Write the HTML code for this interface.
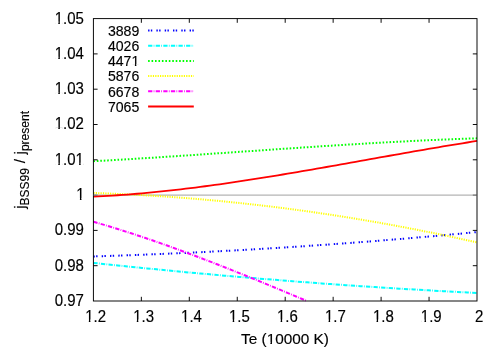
<!DOCTYPE html>
<html><head><meta charset="utf-8"><title>plot</title>
<style>
html,body{margin:0;padding:0;background:#fff;}
body{width:500px;height:350px;overflow:hidden;position:relative;}
svg text{font-family:"Liberation Sans",sans-serif;font-size:15px;fill:#000;stroke:#000;stroke-width:0.15px;}
</style></head><body>
<svg width="500" height="350" viewBox="0 0 500 350" style="position:absolute;left:0;top:0;will-change:transform;opacity:0.999">
<rect width="500" height="350" fill="#fff"/>
<line x1="93.4" y1="195.10" x2="477.0" y2="195.10" stroke="#b4b4b4" stroke-width="1.15"/>
<path d="M93.4,256.45 L98.3,256.30 L103.1,256.14 L108.0,255.98 L112.8,255.82 L117.7,255.65 L122.5,255.48 L127.4,255.30 L132.2,255.13 L137.1,254.94 L142.0,254.76 L146.8,254.56 L151.7,254.37 L156.5,254.17 L161.4,253.97 L166.2,253.76 L171.1,253.55 L175.9,253.33 L180.8,253.11 L185.7,252.89 L190.5,252.66 L195.4,252.43 L200.2,252.19 L205.1,251.95 L209.9,251.71 L214.8,251.46 L219.6,251.21 L224.5,250.95 L229.4,250.69 L234.2,250.43 L239.1,250.16 L243.9,249.89 L248.8,249.61 L253.6,249.33 L258.5,249.05 L263.3,248.76 L268.2,248.47 L273.1,248.17 L277.9,247.87 L282.8,247.57 L287.6,247.26 L292.5,246.95 L297.3,246.63 L302.2,246.31 L307.1,245.98 L311.9,245.66 L316.8,245.32 L321.6,244.99 L326.5,244.65 L331.3,244.30 L336.2,243.95 L341.0,243.60 L345.9,243.24 L350.8,242.88 L355.6,242.52 L360.5,242.15 L365.3,241.77 L370.2,241.40 L375.0,241.02 L379.9,240.63 L384.7,240.24 L389.6,239.85 L394.5,239.45 L399.3,239.05 L404.2,238.64 L409.0,238.23 L413.9,237.82 L418.7,237.40 L423.6,236.98 L428.4,236.56 L433.3,236.13 L438.2,235.69 L443.0,235.26 L447.9,234.81 L452.7,234.37 L457.6,233.92 L462.4,233.46 L467.3,233.01 L472.1,232.54 L477.0,232.08" fill="none" stroke="#0000ff" stroke-width="2.0" stroke-dasharray="1.4 1.35 1.4 4.15"/>
<path d="M93.4,262.92 L98.3,263.43 L103.1,263.95 L108.0,264.46 L112.8,264.96 L117.7,265.47 L122.5,265.96 L127.4,266.46 L132.2,266.95 L137.1,267.44 L142.0,267.93 L146.8,268.41 L151.7,268.89 L156.5,269.36 L161.4,269.83 L166.2,270.30 L171.1,270.76 L175.9,271.22 L180.8,271.68 L185.7,272.13 L190.5,272.58 L195.4,273.03 L200.2,273.47 L205.1,273.91 L209.9,274.35 L214.8,274.78 L219.6,275.21 L224.5,275.64 L229.4,276.06 L234.2,276.48 L239.1,276.89 L243.9,277.30 L248.8,277.71 L253.6,278.12 L258.5,278.52 L263.3,278.92 L268.2,279.31 L273.1,279.70 L277.9,280.09 L282.8,280.47 L287.6,280.85 L292.5,281.23 L297.3,281.60 L302.2,281.97 L307.1,282.34 L311.9,282.70 L316.8,283.06 L321.6,283.41 L326.5,283.77 L331.3,284.11 L336.2,284.46 L341.0,284.80 L345.9,285.14 L350.8,285.47 L355.6,285.80 L360.5,286.13 L365.3,286.46 L370.2,286.78 L375.0,287.09 L379.9,287.41 L384.7,287.72 L389.6,288.02 L394.5,288.33 L399.3,288.63 L404.2,288.92 L409.0,289.22 L413.9,289.50 L418.7,289.79 L423.6,290.07 L428.4,290.35 L433.3,290.63 L438.2,290.90 L443.0,291.17 L447.9,291.43 L452.7,291.69 L457.6,291.95 L462.4,292.20 L467.3,292.45 L472.1,292.70 L477.0,292.95" fill="none" stroke="#00ffff" stroke-width="2.0" stroke-dasharray="4.25 1.3 0.75 1.3"/>
<path d="M93.4,161.21 L98.3,160.95 L103.1,160.68 L108.0,160.40 L112.8,160.12 L117.7,159.84 L122.5,159.55 L127.4,159.26 L132.2,158.97 L137.1,158.67 L142.0,158.37 L146.8,158.06 L151.7,157.75 L156.5,157.44 L161.4,157.13 L166.2,156.81 L171.1,156.50 L175.9,156.18 L180.8,155.85 L185.7,155.53 L190.5,155.20 L195.4,154.87 L200.2,154.54 L205.1,154.21 L209.9,153.88 L214.8,153.55 L219.6,153.21 L224.5,152.88 L229.4,152.54 L234.2,152.21 L239.1,151.87 L243.9,151.54 L248.8,151.20 L253.6,150.87 L258.5,150.53 L263.3,150.20 L268.2,149.86 L273.1,149.53 L277.9,149.20 L282.8,148.87 L287.6,148.54 L292.5,148.21 L297.3,147.88 L302.2,147.56 L307.1,147.23 L311.9,146.91 L316.8,146.59 L321.6,146.28 L326.5,145.96 L331.3,145.65 L336.2,145.34 L341.0,145.04 L345.9,144.74 L350.8,144.44 L355.6,144.14 L360.5,143.85 L365.3,143.56 L370.2,143.28 L375.0,143.00 L379.9,142.72 L384.7,142.45 L389.6,142.18 L394.5,141.92 L399.3,141.67 L404.2,141.41 L409.0,141.17 L413.9,140.93 L418.7,140.69 L423.6,140.46 L428.4,140.23 L433.3,140.01 L438.2,139.80 L443.0,139.60 L447.9,139.40 L452.7,139.20 L457.6,139.02 L462.4,138.84 L467.3,138.66 L472.1,138.50 L477.0,138.34" fill="none" stroke="#00ff00" stroke-width="2.0" stroke-dasharray="1.6 1.85"/>
<path d="M93.4,193.00 L98.3,193.16 L103.1,193.33 L108.0,193.51 L112.8,193.71 L117.7,193.91 L122.5,194.13 L127.4,194.36 L132.2,194.60 L137.1,194.86 L142.0,195.12 L146.8,195.40 L151.7,195.69 L156.5,195.99 L161.4,196.31 L166.2,196.63 L171.1,196.97 L175.9,197.32 L180.8,197.68 L185.7,198.06 L190.5,198.44 L195.4,198.84 L200.2,199.25 L205.1,199.67 L209.9,200.11 L214.8,200.55 L219.6,201.01 L224.5,201.48 L229.4,201.96 L234.2,202.46 L239.1,202.96 L243.9,203.48 L248.8,204.01 L253.6,204.55 L258.5,205.11 L263.3,205.67 L268.2,206.25 L273.1,206.84 L277.9,207.44 L282.8,208.06 L287.6,208.68 L292.5,209.32 L297.3,209.97 L302.2,210.63 L307.1,211.31 L311.9,211.99 L316.8,212.69 L321.6,213.40 L326.5,214.12 L331.3,214.85 L336.2,215.60 L341.0,216.36 L345.9,217.13 L350.8,217.91 L355.6,218.70 L360.5,219.51 L365.3,220.33 L370.2,221.16 L375.0,222.00 L379.9,222.85 L384.7,223.72 L389.6,224.60 L394.5,225.48 L399.3,226.39 L404.2,227.30 L409.0,228.23 L413.9,229.16 L418.7,230.11 L423.6,231.07 L428.4,232.05 L433.3,233.03 L438.2,234.03 L443.0,235.04 L447.9,236.06 L452.7,237.10 L457.6,238.14 L462.4,239.20 L467.3,240.27 L472.1,241.35 L477.0,242.44" fill="none" stroke="#ffff00" stroke-width="2.0" stroke-dasharray="1.2 1.18"/>
<path d="M93.4,221.76 L96.1,222.53 L98.8,223.31 L101.5,224.10 L104.2,224.90 L106.9,225.71 L109.6,226.53 L112.3,227.35 L115.0,228.18 L117.7,229.02 L120.4,229.86 L123.1,230.72 L125.8,231.58 L128.5,232.44 L131.2,233.32 L133.9,234.20 L136.6,235.09 L139.3,235.99 L142.0,236.89 L144.8,237.80 L147.5,238.72 L150.2,239.64 L152.9,240.57 L155.6,241.51 L158.3,242.45 L161.0,243.40 L163.7,244.35 L166.4,245.31 L169.1,246.28 L171.8,247.25 L174.5,248.22 L177.2,249.21 L179.9,250.20 L182.6,251.19 L185.3,252.19 L188.0,253.19 L190.7,254.20 L193.4,255.21 L196.1,256.23 L198.8,257.26 L201.5,258.29 L204.2,259.32 L206.9,260.36 L209.6,261.40 L212.3,262.44 L215.0,263.49 L217.7,264.55 L220.4,265.61 L223.1,266.67 L225.8,267.74 L228.5,268.80 L231.2,269.88 L233.9,270.96 L236.6,272.04 L239.3,273.12 L242.0,274.21 L244.8,275.30 L247.5,276.39 L250.2,277.48 L252.9,278.58 L255.6,279.68 L258.3,280.79 L261.0,281.89 L263.7,283.00 L266.4,284.12 L269.1,285.23 L271.8,286.34 L274.5,287.46 L277.2,288.58 L279.9,289.70 L282.6,290.83 L285.3,291.95 L288.0,293.08 L290.7,294.21 L293.4,295.34 L296.1,296.47 L298.8,297.60 L301.5,298.73 L304.2,299.87 L306.9,301.00" fill="none" stroke="#ff00ff" stroke-width="2.0" stroke-dasharray="4.25 1.3 0.75 1.3"/>
<path d="M93.4,196.65 L98.3,196.41 L103.1,196.16 L108.0,195.88 L112.8,195.58 L117.7,195.26 L122.5,194.91 L127.4,194.55 L132.2,194.16 L137.1,193.76 L142.0,193.34 L146.8,192.90 L151.7,192.43 L156.5,191.96 L161.4,191.46 L166.2,190.95 L171.1,190.41 L175.9,189.87 L180.8,189.30 L185.7,188.73 L190.5,188.13 L195.4,187.52 L200.2,186.90 L205.1,186.26 L209.9,185.61 L214.8,184.95 L219.6,184.27 L224.5,183.58 L229.4,182.88 L234.2,182.17 L239.1,181.44 L243.9,180.71 L248.8,179.96 L253.6,179.21 L258.5,178.45 L263.3,177.67 L268.2,176.89 L273.1,176.10 L277.9,175.30 L282.8,174.50 L287.6,173.69 L292.5,172.87 L297.3,172.04 L302.2,171.21 L307.1,170.37 L311.9,169.53 L316.8,168.69 L321.6,167.84 L326.5,166.99 L331.3,166.13 L336.2,165.27 L341.0,164.41 L345.9,163.54 L350.8,162.68 L355.6,161.81 L360.5,160.94 L365.3,160.08 L370.2,159.21 L375.0,158.34 L379.9,157.47 L384.7,156.61 L389.6,155.75 L394.5,154.88 L399.3,154.03 L404.2,153.17 L409.0,152.32 L413.9,151.47 L418.7,150.62 L423.6,149.78 L428.4,148.95 L433.3,148.12 L438.2,147.29 L443.0,146.48 L447.9,145.66 L452.7,144.86 L457.6,144.06 L462.4,143.27 L467.3,142.49 L472.1,141.72 L477.0,140.96" fill="none" stroke="#ff0000" stroke-width="1.8"/>
<line x1="148.1" y1="30.40" x2="193.8" y2="30.40" stroke="#0000ff" stroke-width="2.0" stroke-dasharray="1.4 1.35 1.4 4.15"/>
<text transform="translate(139.30,35.70) scale(0.94,1.03)" text-anchor="end">3889</text>
<line x1="148.1" y1="45.64" x2="193.8" y2="45.64" stroke="#00ffff" stroke-width="2.0" stroke-dasharray="4.25 1.3 0.75 1.3"/>
<text transform="translate(139.30,50.94) scale(0.94,1.03)" text-anchor="end">4026</text>
<line x1="148.1" y1="60.88" x2="193.8" y2="60.88" stroke="#00ff00" stroke-width="2.0" stroke-dasharray="1.6 1.85"/>
<text transform="translate(139.30,66.18) scale(0.94,1.03)" text-anchor="end">4471</text>
<line x1="148.1" y1="76.12" x2="193.8" y2="76.12" stroke="#ffff00" stroke-width="2.0" stroke-dasharray="1.2 1.18"/>
<text transform="translate(139.30,81.42) scale(0.94,1.03)" text-anchor="end">5876</text>
<line x1="148.1" y1="91.36" x2="193.8" y2="91.36" stroke="#ff00ff" stroke-width="2.0" stroke-dasharray="4.25 1.3 0.75 1.3"/>
<text transform="translate(139.30,96.66) scale(0.94,1.03)" text-anchor="end">6678</text>
<line x1="148.1" y1="106.60" x2="193.8" y2="106.60" stroke="#ff0000" stroke-width="2.0"/>
<text transform="translate(139.30,111.90) scale(0.94,1.03)" text-anchor="end">7065</text>
<rect x="93.4" y="18.6" width="383.6" height="282.4" fill="none" stroke="#000" stroke-width="0.95"/>
<text transform="translate(95.60,321.50) scale(1.0,1.04)" text-anchor="middle">1.2</text>
<line x1="141.35" y1="301.0" x2="141.35" y2="296.8" stroke="#000" stroke-width="0.95"/>
<line x1="141.35" y1="18.6" x2="141.35" y2="22.8" stroke="#000" stroke-width="0.95"/>
<text transform="translate(143.55,321.50) scale(1.0,1.04)" text-anchor="middle">1.3</text>
<line x1="189.30" y1="301.0" x2="189.30" y2="296.8" stroke="#000" stroke-width="0.95"/>
<line x1="189.30" y1="18.6" x2="189.30" y2="22.8" stroke="#000" stroke-width="0.95"/>
<text transform="translate(191.50,321.50) scale(1.0,1.04)" text-anchor="middle">1.4</text>
<line x1="237.25" y1="301.0" x2="237.25" y2="296.8" stroke="#000" stroke-width="0.95"/>
<line x1="237.25" y1="18.6" x2="237.25" y2="22.8" stroke="#000" stroke-width="0.95"/>
<text transform="translate(239.45,321.50) scale(1.0,1.04)" text-anchor="middle">1.5</text>
<line x1="285.20" y1="301.0" x2="285.20" y2="296.8" stroke="#000" stroke-width="0.95"/>
<line x1="285.20" y1="18.6" x2="285.20" y2="22.8" stroke="#000" stroke-width="0.95"/>
<text transform="translate(287.40,321.50) scale(1.0,1.04)" text-anchor="middle">1.6</text>
<line x1="333.15" y1="301.0" x2="333.15" y2="296.8" stroke="#000" stroke-width="0.95"/>
<line x1="333.15" y1="18.6" x2="333.15" y2="22.8" stroke="#000" stroke-width="0.95"/>
<text transform="translate(335.35,321.50) scale(1.0,1.04)" text-anchor="middle">1.7</text>
<line x1="381.10" y1="301.0" x2="381.10" y2="296.8" stroke="#000" stroke-width="0.95"/>
<line x1="381.10" y1="18.6" x2="381.10" y2="22.8" stroke="#000" stroke-width="0.95"/>
<text transform="translate(383.30,321.50) scale(1.0,1.04)" text-anchor="middle">1.8</text>
<line x1="429.05" y1="301.0" x2="429.05" y2="296.8" stroke="#000" stroke-width="0.95"/>
<line x1="429.05" y1="18.6" x2="429.05" y2="22.8" stroke="#000" stroke-width="0.95"/>
<text transform="translate(431.25,321.50) scale(1.0,1.04)" text-anchor="middle">1.9</text>
<text transform="translate(479.20,321.50) scale(1.0,1.04)" text-anchor="middle">2</text>
<text transform="translate(83.80,305.90) scale(1.0,1.06)" text-anchor="end">0.97</text>
<line x1="93.4" y1="265.70" x2="97.60000000000001" y2="265.70" stroke="#000" stroke-width="0.95"/>
<line x1="477.0" y1="265.70" x2="472.8" y2="265.70" stroke="#000" stroke-width="0.95"/>
<text transform="translate(83.80,270.60) scale(1.0,1.06)" text-anchor="end">0.98</text>
<line x1="93.4" y1="230.40" x2="97.60000000000001" y2="230.40" stroke="#000" stroke-width="0.95"/>
<line x1="477.0" y1="230.40" x2="472.8" y2="230.40" stroke="#000" stroke-width="0.95"/>
<text transform="translate(83.80,235.30) scale(1.0,1.06)" text-anchor="end">0.99</text>
<line x1="93.4" y1="195.10" x2="97.60000000000001" y2="195.10" stroke="#606060" stroke-width="0.95"/>
<line x1="477.0" y1="195.10" x2="472.8" y2="195.10" stroke="#606060" stroke-width="0.95"/>
<text transform="translate(84.60,200.00) scale(1.0,1.06)" text-anchor="end">1</text>
<line x1="93.4" y1="159.80" x2="97.60000000000001" y2="159.80" stroke="#000" stroke-width="0.95"/>
<line x1="477.0" y1="159.80" x2="472.8" y2="159.80" stroke="#000" stroke-width="0.95"/>
<text transform="translate(83.80,164.70) scale(1.0,1.06)" text-anchor="end">1.01</text>
<line x1="93.4" y1="124.50" x2="97.60000000000001" y2="124.50" stroke="#000" stroke-width="0.95"/>
<line x1="477.0" y1="124.50" x2="472.8" y2="124.50" stroke="#000" stroke-width="0.95"/>
<text transform="translate(83.80,129.40) scale(1.0,1.06)" text-anchor="end">1.02</text>
<line x1="93.4" y1="89.20" x2="97.60000000000001" y2="89.20" stroke="#000" stroke-width="0.95"/>
<line x1="477.0" y1="89.20" x2="472.8" y2="89.20" stroke="#000" stroke-width="0.95"/>
<text transform="translate(83.80,94.10) scale(1.0,1.06)" text-anchor="end">1.03</text>
<line x1="93.4" y1="53.90" x2="97.60000000000001" y2="53.90" stroke="#000" stroke-width="0.95"/>
<line x1="477.0" y1="53.90" x2="472.8" y2="53.90" stroke="#000" stroke-width="0.95"/>
<text transform="translate(83.80,58.80) scale(1.0,1.06)" text-anchor="end">1.04</text>
<text transform="translate(83.80,23.50) scale(1.0,1.06)" text-anchor="end">1.05</text>
<text transform="translate(285.00,344.00) scale(1.024,1.03)" text-anchor="middle">Te (10000 K)</text>
<text transform="translate(25.3,208.8) rotate(-90)" text-anchor="start">j<tspan font-size="12" dy="3.3">BSS99</tspan><tspan dy="-3.3" dx="0.6"> / </tspan><tspan dx="0.6">j</tspan><tspan font-size="12" dy="3.3">present</tspan></text>
<rect class="ft" transform="translate(139.30,66.18) scale(0.94,1.03)" x="-7.85" y="-1.90" width="3.16" height="2.8" fill="#fff"/>
<rect class="ft" transform="translate(139.30,66.18) scale(0.94,1.03)" x="-3.14" y="-1.90" width="2.99" height="2.8" fill="#fff"/>
<rect class="ft" transform="translate(95.60,321.50) scale(1.0,1.04)" x="-9.92" y="-1.90" width="3.16" height="2.8" fill="#fff"/>
<rect class="ft" transform="translate(95.60,321.50) scale(1.0,1.04)" x="-5.21" y="-1.90" width="2.99" height="2.8" fill="#fff"/>
<rect class="ft" transform="translate(143.55,321.50) scale(1.0,1.04)" x="-9.92" y="-1.90" width="3.16" height="2.8" fill="#fff"/>
<rect class="ft" transform="translate(143.55,321.50) scale(1.0,1.04)" x="-5.21" y="-1.90" width="2.99" height="2.8" fill="#fff"/>
<rect class="ft" transform="translate(191.50,321.50) scale(1.0,1.04)" x="-9.92" y="-1.90" width="3.16" height="2.8" fill="#fff"/>
<rect class="ft" transform="translate(191.50,321.50) scale(1.0,1.04)" x="-5.21" y="-1.90" width="2.99" height="2.8" fill="#fff"/>
<rect class="ft" transform="translate(239.45,321.50) scale(1.0,1.04)" x="-9.92" y="-1.90" width="3.16" height="2.8" fill="#fff"/>
<rect class="ft" transform="translate(239.45,321.50) scale(1.0,1.04)" x="-5.21" y="-1.90" width="2.99" height="2.8" fill="#fff"/>
<rect class="ft" transform="translate(287.40,321.50) scale(1.0,1.04)" x="-9.92" y="-1.90" width="3.16" height="2.8" fill="#fff"/>
<rect class="ft" transform="translate(287.40,321.50) scale(1.0,1.04)" x="-5.21" y="-1.90" width="2.99" height="2.8" fill="#fff"/>
<rect class="ft" transform="translate(335.35,321.50) scale(1.0,1.04)" x="-9.92" y="-1.90" width="3.16" height="2.8" fill="#fff"/>
<rect class="ft" transform="translate(335.35,321.50) scale(1.0,1.04)" x="-5.21" y="-1.90" width="2.99" height="2.8" fill="#fff"/>
<rect class="ft" transform="translate(383.30,321.50) scale(1.0,1.04)" x="-9.92" y="-1.90" width="3.16" height="2.8" fill="#fff"/>
<rect class="ft" transform="translate(383.30,321.50) scale(1.0,1.04)" x="-5.21" y="-1.90" width="2.99" height="2.8" fill="#fff"/>
<rect class="ft" transform="translate(431.25,321.50) scale(1.0,1.04)" x="-9.92" y="-1.90" width="3.16" height="2.8" fill="#fff"/>
<rect class="ft" transform="translate(431.25,321.50) scale(1.0,1.04)" x="-5.21" y="-1.90" width="2.99" height="2.8" fill="#fff"/>
<rect class="ft" transform="translate(84.60,200.00) scale(1.0,1.06)" x="-7.84" y="-1.90" width="3.16" height="2.8" fill="#fff"/>
<rect class="ft" transform="translate(84.60,200.00) scale(1.0,1.06)" x="-3.13" y="-1.90" width="2.99" height="2.8" fill="#fff"/>
<rect class="ft" transform="translate(83.80,164.70) scale(1.0,1.06)" x="-28.66" y="-1.90" width="3.16" height="2.8" fill="#fff"/>
<rect class="ft" transform="translate(83.80,164.70) scale(1.0,1.06)" x="-23.95" y="-1.90" width="2.99" height="2.8" fill="#fff"/>
<rect class="ft" transform="translate(83.80,164.70) scale(1.0,1.06)" x="-7.84" y="-1.90" width="3.16" height="2.8" fill="#fff"/>
<rect class="ft" transform="translate(83.80,164.70) scale(1.0,1.06)" x="-3.13" y="-1.90" width="2.99" height="2.8" fill="#fff"/>
<rect class="ft" transform="translate(83.80,129.40) scale(1.0,1.06)" x="-28.66" y="-1.90" width="3.16" height="2.8" fill="#fff"/>
<rect class="ft" transform="translate(83.80,129.40) scale(1.0,1.06)" x="-23.95" y="-1.90" width="2.99" height="2.8" fill="#fff"/>
<rect class="ft" transform="translate(83.80,94.10) scale(1.0,1.06)" x="-28.66" y="-1.90" width="3.16" height="2.8" fill="#fff"/>
<rect class="ft" transform="translate(83.80,94.10) scale(1.0,1.06)" x="-23.95" y="-1.90" width="2.99" height="2.8" fill="#fff"/>
<rect class="ft" transform="translate(83.80,58.80) scale(1.0,1.06)" x="-28.66" y="-1.90" width="3.16" height="2.8" fill="#fff"/>
<rect class="ft" transform="translate(83.80,58.80) scale(1.0,1.06)" x="-23.95" y="-1.90" width="2.99" height="2.8" fill="#fff"/>
<rect class="ft" transform="translate(83.80,23.50) scale(1.0,1.06)" x="-28.66" y="-1.90" width="3.16" height="2.8" fill="#fff"/>
<rect class="ft" transform="translate(83.80,23.50) scale(1.0,1.06)" x="-23.95" y="-1.90" width="2.99" height="2.8" fill="#fff"/>
<rect class="ft" transform="translate(285.00,344.00) scale(1.024,1.03)" x="-17.44" y="-1.90" width="3.16" height="2.8" fill="#fff"/>
<rect class="ft" transform="translate(285.00,344.00) scale(1.024,1.03)" x="-12.73" y="-1.90" width="2.99" height="2.8" fill="#fff"/>
</svg>
</body></html>
